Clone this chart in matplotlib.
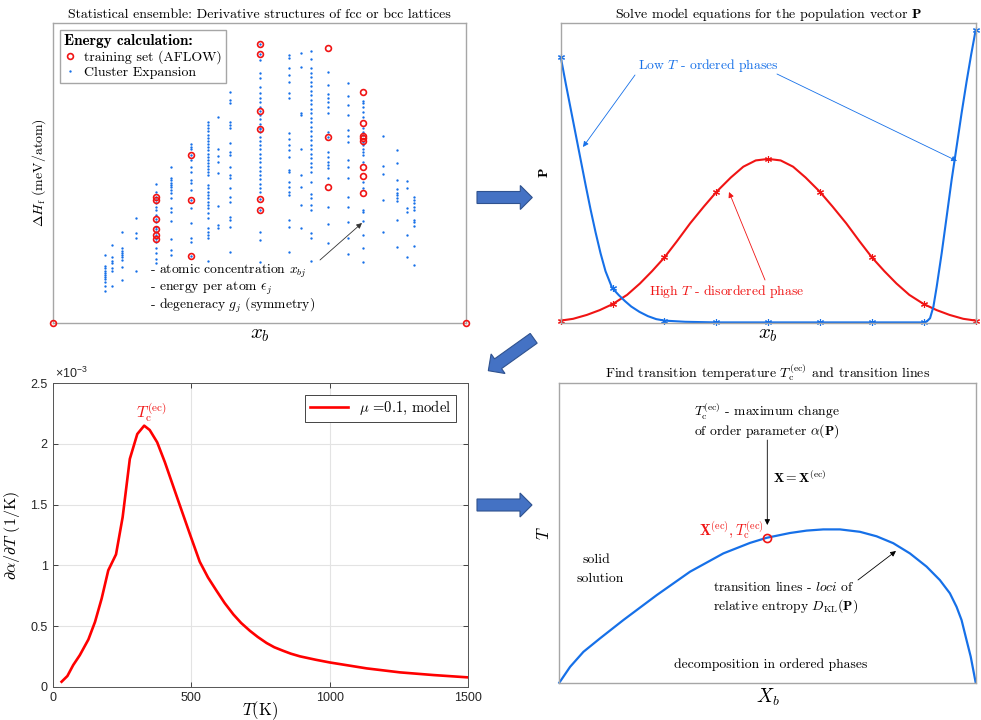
import matplotlib
matplotlib.use('Agg')
import matplotlib.pyplot as plt
from matplotlib.lines import Line2D
from matplotlib.patches import FancyArrow
from matplotlib.font_manager import FontProperties

plt.rcParams['mathtext.fontset'] = 'cm'
plt.rcParams['font.family'] = 'cmr10'
plt.rcParams['axes.formatter.use_mathtext'] = True

BLUE = '#1670e8'
RED = '#f01414'
EDGE = '#a6a6a6'
W, H = 981, 720

# ---- panel 1: derivative structures (x_b, dH_f in arbitrary meV/atom scale) ----
ce_conc = [0.125, 0.143, 0.167, 0.2, 0.25, 0.286, 0.333, 0.375, 0.4, 0.429, 0.5,
           0.571, 0.6, 0.625, 0.667, 0.714, 0.75, 0.8, 0.833, 0.857, 0.875]
ce_dH = [
    [22.6, 18.9, 18.2, 17.4, 16.7, 15.9, 15.1, 14.5, 13.7, 12.2, 10.7],
    [25.9, 21.8, 20.7, 19.8, 18.2, 17.4, 12.2],
    [30.4, 24.8, 24.1, 23.4, 22.6, 21.8, 20.9, 18.7, 14.3],
    [35.1, 29.8, 28.2, 17.3],
    [46.2, 43.8, 42.1, 41.0, 39.9, 38.8, 37.6, 36.0, 34.6, 33.7, 32.1, 31.4, 30.4,
     29.2, 27.8, 27.1, 24.8, 23.2, 21.2, 19.8],
    [51.9, 48.3, 47.7, 46.8, 46.0, 45.2, 44.3, 43.4, 41.6, 38.3, 37.1, 34.1, 28.0,
     24.3, 22.6],
    [59.7, 58.8, 58.0, 55.9, 54.3, 52.1, 50.4, 47.7, 46.5, 44.3, 40.9, 38.2, 33.2,
     28.2, 27.1, 22.2],
    [66.9, 65.9, 64.9, 63.9, 62.8, 61.8, 60.7, 59.7, 58.6, 57.6, 56.5, 55.5, 54.4,
     53.4, 52.3, 51.3, 50.2, 49.3, 46.0, 44.9, 43.8, 42.7, 41.5, 40.4, 39.3, 38.2,
     36.7, 34.9, 31.5, 30.4, 29.3, 28.2, 20.6],
    [68.8, 58.0, 55.7, 53.8, 50.1, 39.1, 32.6, 31.5],
    [77.2, 74.4, 73.3, 67.1, 66.0, 64.9, 60.1, 57.1, 56.0, 52.1, 49.3, 48.2, 44.9,
     42.1, 40.4, 35.4, 34.3, 32.1, 23.5],
    [93.0, 89.6, 87.7, 83.4, 81.7, 78.7, 76.7, 75.0, 73.6, 72.1, 70.7, 69.3, 67.9,
     66.4, 65.0, 64.6, 63.6, 62.1, 60.7, 59.3, 57.9, 56.4, 55.0, 53.6, 52.1, 50.7,
     49.3, 47.9, 46.4, 45.0, 43.7, 41.3, 37.6, 30.3, 27.6, 20.3],
    [89.4, 88.5, 85.0, 82.7, 80.5, 76.6, 74.9, 63.3, 61.3, 59.3, 57.7, 55.4, 51.0,
     50.4, 47.1, 45.4, 43.8, 42.6, 34.3, 32.1, 23.7],
    [90.0, 85.3, 69.9, 69.4, 57.9, 49.3, 45.4, 39.3, 31.7],
    [90.7, 88.1, 85.0, 83.5, 82.0, 80.5, 79.0, 77.5, 76.0, 74.5, 73.0, 71.5, 70.0,
     68.5, 67.0, 65.5, 64.0, 62.5, 61.0, 59.5, 58.0, 56.5, 55.0, 53.5, 52.1, 50.4,
     46.9, 43.0, 41.5, 39.3, 37.6, 29.9, 28.2, 20.6],
    [83.9, 79.4, 76.3, 75.2, 73.8, 72.2, 70.2, 63.8, 61.9, 57.1, 55.5, 53.8, 52.7,
     51.6, 48.2, 38.8, 33.0, 26.7],
    [80.0, 75.7, 72.7, 69.4, 64.4, 62.4, 60.5, 54.3, 52.1, 48.2, 42.1, 38.7, 33.5,
     28.4, 22.9],
    [74.0, 73.3, 72.1, 70.3, 68.8, 64.9, 63.8, 62.7, 60.5, 59.3, 58.1, 57.1, 56.0,
     53.8, 47.1, 44.9, 37.6, 37.1, 34.1, 29.3, 24.8, 20.2],
    [62.5, 52.3, 49.7, 41.0, 30.4],
    [57.7, 53.2, 47.7, 44.7, 43.2, 42.7, 41.8, 40.6, 34.3, 25.4],
    [47.3, 45.1, 38.4, 36.9, 29.3, 22.0],
    [41.9, 41.0, 39.9, 38.7, 37.6, 34.3, 33.5, 32.4, 25.7, 19.3],
]
aflow_conc = [0.0, 0.25, 0.333, 0.5, 0.667, 0.75, 1.0]
aflow_dH = [
    [0.0],
    [41.9, 41.0, 34.6, 31.4, 29.2, 27.8],
    [55.9, 40.9, 22.2],
    [93.0, 89.6, 70.7, 64.6, 41.3, 37.6],
    [91.9, 61.9, 45.2],
    [77.2, 66.6, 62.4, 61.6, 60.7, 52.1, 49.1, 43.2],
    [0.0],
]

# ---- panel 2: population vector P at low and high T ----
pop_x = [0, 0.125, 0.25, 0.375, 0.5, 0.625, 0.75, 0.875, 1.0]
pop_low = [0.888, 0.116, 0.007, 0.001, 0.001, 0.001, 0.001, 0.001, 0.978]
pop_high = [0.007, 0.062, 0.218, 0.437, 0.547, 0.437, 0.218, 0.062, 0.007]
low_x = [0, 0.012, 0.024, 0.036, 0.048, 0.060, 0.072, 0.084, 0.096, 0.108, 0.124,
         0.140, 0.155, 0.170, 0.190, 0.210, 0.230, 0.25, 0.30, 0.375, 0.5, 0.625,
         0.75, 0.875, 0.882, 0.890, 0.898, 0.906, 0.918, 0.930, 0.942, 0.954, 0.966,
         0.978, 0.989, 1.0]
low_P = [0.888, 0.800, 0.715, 0.630, 0.545, 0.460, 0.378, 0.302, 0.232, 0.172, 0.116,
         0.092, 0.072, 0.054, 0.036, 0.022, 0.012, 0.007, 0.003, 0.001, 0.001, 0.001,
         0.001, 0.001, 0.004, 0.015, 0.053, 0.120, 0.232, 0.354, 0.477, 0.588, 0.700,
         0.805, 0.895, 0.978]
high_x = [0, 0.03, 0.063, 0.094, 0.125, 0.16, 0.191, 0.22, 0.25, 0.28, 0.312, 0.345,
          0.376, 0.41, 0.44, 0.47, 0.5, 0.53, 0.56, 0.59, 0.624, 0.655, 0.688, 0.72,
          0.75, 0.78, 0.809, 0.84, 0.875, 0.906, 0.937, 0.97, 1.0]
high_P = [0.007, 0.013, 0.026, 0.042, 0.062, 0.093, 0.131, 0.172, 0.218, 0.272, 0.332,
          0.388, 0.438, 0.485, 0.521, 0.542, 0.547, 0.542, 0.521, 0.485, 0.438, 0.388,
          0.332, 0.272, 0.218, 0.172, 0.131, 0.093, 0.062, 0.042, 0.026, 0.013, 0.007]

# ---- panel 3: d alpha / dT (in units of 1e-3 1/K) ----
T_K = [30, 51, 72, 96, 127, 151, 175, 199, 227, 251, 277, 304, 329, 349, 376, 404,
       452, 494, 530, 560, 591, 620, 652, 680, 712, 740, 772, 800, 833, 860, 893, 950,
       1000, 1134, 1255, 1376, 1500]
dadT = [0.041, 0.088, 0.178, 0.260, 0.389, 0.534, 0.726, 0.959, 1.090, 1.397, 1.877,
        2.082, 2.151, 2.115, 2.014, 1.849, 1.534, 1.260, 1.030, 0.900, 0.790, 0.690,
        0.595, 0.525, 0.460, 0.410, 0.360, 0.325, 0.295, 0.272, 0.250, 0.222, 0.200,
        0.151, 0.118, 0.096, 0.077]

# ---- panel 4: transition line ----
line_X = [0, 0.026, 0.058, 0.098, 0.154, 0.234, 0.314, 0.394, 0.458, 0.498, 0.554,
          0.594, 0.634, 0.674, 0.722, 0.762, 0.802, 0.842, 0.882, 0.914, 0.938, 0.954,
          0.966, 0.978, 0.988, 1.0]
line_T = [0, 0.053, 0.103, 0.148, 0.209, 0.292, 0.370, 0.431, 0.466, 0.483, 0.499,
          0.507, 0.511, 0.511, 0.503, 0.488, 0.465, 0.431, 0.387, 0.342, 0.298, 0.253,
          0.209, 0.142, 0.087, 0.0]
ec_X, ec_T = 0.498, 0.483

fig = plt.figure(figsize=(W / 100, H / 100), dpi=100)

B1 = (53, 23.3, 466, 322.7)
B2 = (560.7, 23.3, 975.7, 322.7)
B3 = (53.3, 383.3, 467.7, 686.7)
B4 = (559.3, 382.7, 975.7, 682.7)


def add_box(l, t, r, b):
    return fig.add_axes([l / W, 1 - b / H, (r - l) / W, (b - t) / H])


def frac(box, px, py):
    # pixel position -> axes fraction
    l, t, r, b = box
    return ((px - l) / (r - l), (b - py) / (b - t))


def plain(ax):
    ax.set_xticks([])
    ax.set_yticks([])
    for s in ax.spines.values():
        s.set_color(EDGE)
        s.set_linewidth(1.0)


def arrow(ax, box, p0, p1, color):
    ax.annotate('', xy=frac(box, *p1), xytext=frac(box, *p0),
                xycoords='axes fraction', textcoords='axes fraction',
                arrowprops=dict(arrowstyle='-|>', color=color, lw=0.6,
                                mutation_scale=8, shrinkA=0, shrinkB=0))


# panel 1
ax1 = add_box(*B1)
plain(ax1)
ax1.set_xlim(0, 1)
ax1.set_ylim(0, 100)
for c, vals in zip(ce_conc, ce_dH):
    ax1.plot([c] * len(vals), vals, ls='none', marker='o', ms=1.7, mfc=BLUE, mec='none')
for c, vals in zip(aflow_conc, aflow_dH):
    ax1.plot([c] * len(vals), vals, ls='none', marker='o', ms=4.2, mfc='none',
             mec=RED, mew=1.2, clip_on=False, zorder=4)
h_train = Line2D([], [], ls='none', marker='o', ms=4.2, mfc='none', mec=RED, mew=1.2)
h_ce = Line2D([], [], ls='none', marker='o', ms=1.7, mfc=BLUE, mec='none')
leg = ax1.legend([h_train, h_ce], ['training set (AFLOW)', 'Cluster Expansion'],
                 title='Energy calculation:',
                 title_fontproperties=FontProperties(family='cmb10', size=11),
                 loc='upper left', bbox_to_anchor=frac(B1, 60, 30), alignment='left',
                 fontsize=10, fancybox=False, edgecolor=EDGE, framealpha=1,
                 handlelength=0.8, handletextpad=0.6, borderpad=0.3,
                 labelspacing=0.15, borderaxespad=0)
leg.get_frame().set_linewidth(1.0)
ax1.text(*frac(B1, 150, 289),
         '- atomic concentration $x_{bj}$\n'
         '- energy per atom $\\epsilon_j$\n'
         '- degeneracy $g_j$ (symmetry)',
         fontsize=9.8, va='center', linespacing=0.92, transform=ax1.transAxes)
arrow(ax1, B1, (320, 260), (362, 223), '#333333')
ax1.set_title('Statistical ensemble: Derivative structures of fcc or bcc lattices',
              fontsize=10, pad=4)
ax1.set_xlabel('$x_b$', fontsize=15, va='top')
ax1.xaxis.set_label_coords(0.5, frac(B1, 0, 326)[1])
ax1.set_ylabel(r'$\Delta H_{\rm f}$ (meV/atom)', fontsize=10)
ax1.yaxis.set_label_coords(frac(B1, 48, 0)[0], 0.5)

# panel 2
ax2 = add_box(*B2)
plain(ax2)
ax2.set_xlim(0, 1)
ax2.set_ylim(0, 1)
ax2.plot(high_x, high_P, color=RED, lw=1.5, clip_on=False)
ax2.plot(low_x, low_P, color=BLUE, lw=1.5, clip_on=False)
ax2.plot(pop_x, pop_high, ls='none', marker=(6, 2, 0), ms=5, mec=RED, mew=0.8, clip_on=False)
ax2.plot(pop_x, pop_low, ls='none', marker=(6, 2, 0), ms=5, mec=BLUE, mew=0.8, clip_on=False)
ax2.text(*frac(B2, 638, 65), r'Low $T$ - ordered phases', color=BLUE, fontsize=9.8,
         va='center', transform=ax2.transAxes)
arrow(ax2, B2, (635, 75), (583, 147), BLUE)
arrow(ax2, B2, (777, 74), (957, 161), BLUE)
ax2.text(*frac(B2, 649, 291), r'High $T$ - disordered phase', color=RED, fontsize=9.8,
         va='center', transform=ax2.transAxes)
arrow(ax2, B2, (765, 280), (729, 192), RED)
ax2.set_title(r'Solve model equations for the population vector $\mathbf{P}$',
              fontsize=10, pad=4)
ax2.set_xlabel('$x_b$', fontsize=15, va='top')
ax2.xaxis.set_label_coords(0.5, frac(B2, 0, 326)[1])
ax2.set_ylabel(r'$\mathbf{P}$', fontsize=10)
ax2.yaxis.set_label_coords(frac(B2, 551, 0)[0], 0.5)

# panel 3
ax3 = add_box(*B3)
ax3.plot(T_K, dadT, color='#ff0000', lw=1.9, label=r'$\mu$ =0.1, model')
ax3.set_xlim(0, 1500)
ax3.set_ylim(0, 2.5)
ax3.set_xticks([0, 500, 1000, 1500], labels=['0', '500', '1000', '1500'])
ax3.set_yticks([0, 0.5, 1, 1.5, 2, 2.5], labels=['0', '0.5', '1', '1.5', '2', '2.5'])
ax3.grid(True, color='#e3e3e3', lw=0.8)
ax3.tick_params(direction='in', top=True, right=True, length=3.5, width=0.6,
                colors='#262626', labelsize=9, labelfontfamily='Liberation Sans', pad=4)
for s in ax3.spines.values():
    s.set_color('#555555')
    s.set_linewidth(0.7)
leg3 = ax3.legend(loc='upper right', prop={'family': 'cmr10', 'size': 10.5},
                  fancybox=False, edgecolor='#262626', framealpha=1,
                  handlelength=2.6, borderaxespad=0.8, borderpad=0.3)
leg3.get_frame().set_linewidth(0.6)
ax3.text(frac(B3, 55, 0)[0], 1.006, r'$\mathregular{\times10^{-3}}$', fontsize=9,
         family='Liberation Sans', color='#262626', va='bottom', transform=ax3.transAxes)
ax3.text(*frac(B3, 151, 413), r'$T_{\rm c}^{\rm (ec)}$', color=RED, fontsize=11.5,
         ha='center', va='center', transform=ax3.transAxes)
ax3.set_xlabel(r'$T$(K)', fontsize=12, va='top')
ax3.xaxis.set_label_coords(0.5, frac(B3, 0, 699)[1])
ax3.set_ylabel(r'$\partial\alpha/\partial T$ (1/K)', fontsize=11.5)
ax3.yaxis.set_label_coords(frac(B3, 22, 0)[0], 0.5)

# panel 4
ax4 = add_box(*B4)
plain(ax4)
ax4.set_xlim(0, 1)
ax4.set_ylim(0, 1)
ax4.plot(line_X, line_T, color=BLUE, lw=1.6, clip_on=False)
ax4.plot([ec_X], [ec_T], ls='none', marker='o', ms=5.8, mfc='none', mec=RED, mew=1.2)
for txt, px, py, kw in [
        (r'$T_{\rm c}^{\rm (ec)}$ - maximum change', 694, 412, dict(ha='left')),
        (r'of order parameter $\alpha(\mathbf{P})$', 694, 431, dict(ha='left')),
        (r'$\mathbf{X} = \mathbf{X}^{\rm (ec)}$', 773, 478, dict(ha='left')),
        ('solid', 596, 560, dict(ha='center')),
        ('solution', 600, 579, dict(ha='center')),
        (r'transition lines - $\mathit{loci}$ of', 713, 587, dict(ha='left')),
        (r'relative entropy $D_{\rm KL}(\mathbf{P})$', 713, 606, dict(ha='left')),
        ('decomposition in ordered phases', 771, 665, dict(ha='center'))]:
    ax4.text(*frac(B4, px, py), txt, fontsize=9.8, va='center',
             transform=ax4.transAxes, **kw)
ax4.text(*frac(B4, 699, 530), r'$\mathbf{X}^{\rm (ec)}, T_{\rm c}^{\rm (ec)}$', color=RED,
         fontsize=10.5, ha='left', va='center', transform=ax4.transAxes)
arrow(ax4, B4, (767.3, 440), (767.3, 525), 'black')
arrow(ax4, B4, (858, 580), (896, 551), 'black')
ax4.set_title(r'Find transition temperature $T_{\rm c}^{\rm (ec)}$ and transition lines',
              fontsize=10, pad=4)
ax4.set_xlabel('$X_b$', fontsize=14, va='top')
ax4.xaxis.set_label_coords(0.5, frac(B4, 0, 687)[1])
ax4.set_ylabel('$T$', fontsize=12)
ax4.yaxis.set_label_coords(frac(B4, 552, 0)[0], 0.5)

# block arrows between the panels (pixel coordinates)
ov = fig.add_axes([0, 0, 1, 1], zorder=-1)
ov.set_xlim(0, W)
ov.set_ylim(H, 0)
ov.axis('off')
block_arrows = [(477, 197.5, 532.3, 197.5), (533.7, 338.3, 488.3, 370.7),
                (477, 505, 532, 505)]
for x0, y0, x1, y1 in block_arrows:
    ov.add_patch(FancyArrow(x0, y0, x1 - x0, y1 - y0, width=12, head_width=24,
                            head_length=12, length_includes_head=True,
                            fc='#4472C4', ec='#2F528F', lw=0.8))

fig.savefig('out.png', dpi=100)
